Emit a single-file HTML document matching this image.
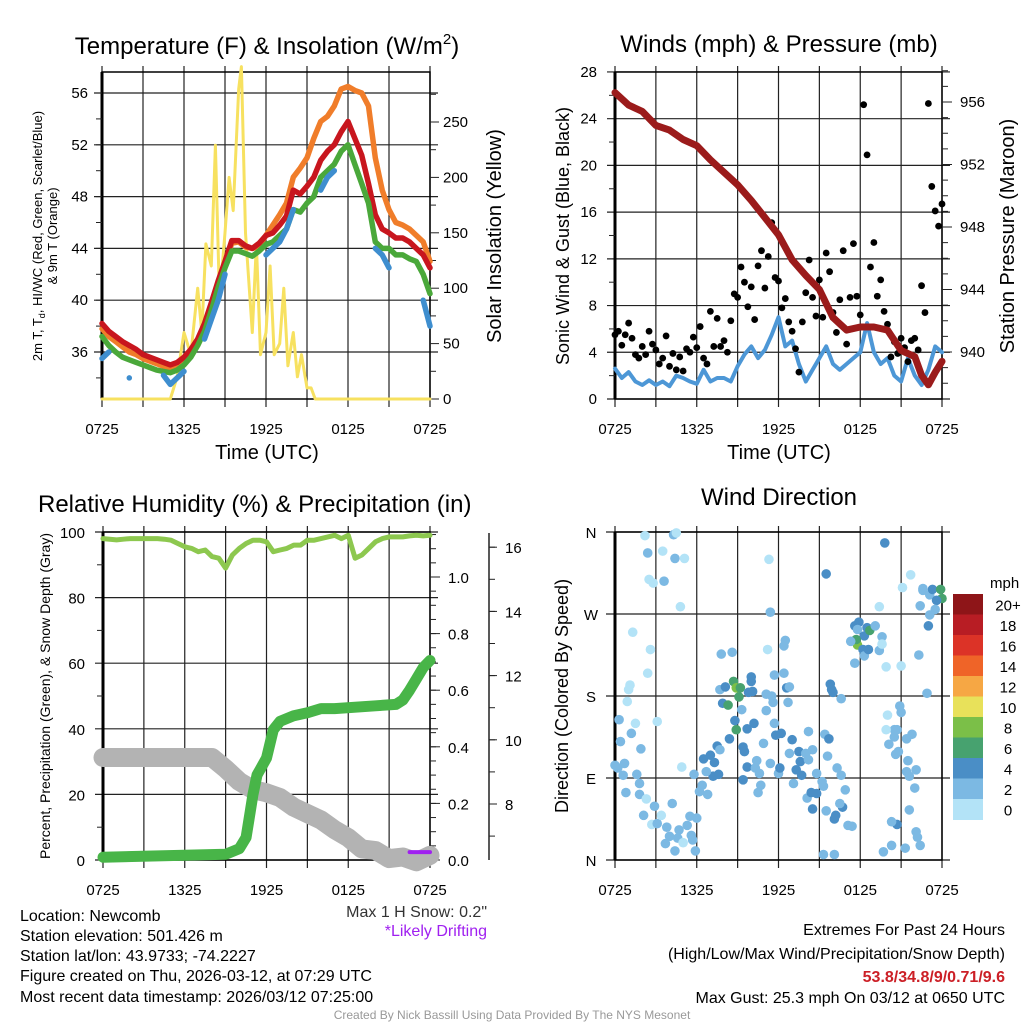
<!DOCTYPE html>
<html><head><meta charset="utf-8"><title>Mesonet Meteogram</title>
<style>
html,body{margin:0;padding:0;background:#fff;}
svg{display:block;font-family:"Liberation Sans",Arial,sans-serif;}
</style></head>
<body>
<svg id="chart" xmlns="http://www.w3.org/2000/svg" width="1024" height="1024" viewBox="0 0 1024 1024">
<rect x="0" y="0" width="1024" height="1024" fill="#fff"/>
<g id="layer"></g>
<text x="267" y="54" font-size="24" text-anchor="middle">Temperature (F) &amp; Insolation (W/m<tspan font-size="15" dy="-10">2</tspan><tspan dy="10">)</tspan></text>
<text x="779" y="52" font-size="24" text-anchor="middle">Winds (mph) &amp; Pressure (mb)</text>
<text x="38" y="512" font-size="24">Relative Humidity (%) &amp; Precipitation (in)</text>
<text x="779" y="505" font-size="24" text-anchor="middle">Wind Direction</text>
<text x="267" y="459" font-size="20" text-anchor="middle">Time (UTC)</text>
<text x="779" y="459" font-size="20" text-anchor="middle">Time (UTC)</text>
<text transform="translate(42,236) rotate(-90)" font-size="13" text-anchor="middle">2m T, T<tspan font-size="9" dy="3">d</tspan><tspan dy="-3">, HI/WC (Red, Green, Scarlet/Blue)</tspan></text>
<text transform="translate(57,236) rotate(-90)" font-size="13" text-anchor="middle">&amp; 9m T (Orange)</text>
<text transform="translate(501,236) rotate(-90)" font-size="20" text-anchor="middle">Solar Insolation (Yellow)</text>
<text transform="translate(569,236) rotate(-90)" font-size="18" text-anchor="middle">Sonic Wind &amp; Gust (Blue, Black)</text>
<text transform="translate(1014,236) rotate(-90)" font-size="20" text-anchor="middle">Station Pressure (Maroon)</text>
<text transform="translate(50,696) rotate(-90)" font-size="14" text-anchor="middle">Percent, Precipitation (Green), &amp; Snow Depth (Gray)</text>
<text transform="translate(568,696) rotate(-90)" font-size="18" text-anchor="middle">Direction (Colored By Speed)</text>
<text x="990" y="588" font-size="15">mph</text>
<text x="487" y="917" font-size="16" text-anchor="end" fill="#333">Max 1 H Snow: 0.2"</text>
<text x="487" y="936" font-size="16" text-anchor="end" fill="#a020f0">*Likely Drifting</text>
<g font-size="16">
<text x="20" y="921">Location: Newcomb</text>
<text x="20" y="941">Station elevation: 501.426 m</text>
<text x="20" y="961">Station lat/lon: 43.9733; -74.2227</text>
<text x="20" y="981">Figure created on Thu, 2026-03-12, at 07:29 UTC</text>
<text x="20" y="1002">Most recent data timestamp: 2026/03/12 07:25:00</text>
</g>
<g font-size="16" text-anchor="end">
<text x="1005" y="935">Extremes For Past 24 Hours</text>
<text x="1005" y="959">(High/Low/Max Wind/Precipitation/Snow Depth)</text>
<text x="1005" y="982" fill="#cc1f26" font-weight="bold">53.8/34.8/9/0.71/9.6</text>
<text x="1005" y="1003">Max Gust: 25.3 mph On 03/12 at 0650 UTC</text>
</g>
<text x="512" y="1019" font-size="12" text-anchor="middle" fill="#999">Created By Nick Bassill Using Data Provided By The NYS Mesonet</text>
</svg>
<script>
const halfHours = [0,0.5,1,1.5,2,2.5,3,3.5,4,4.5,5,5.5,6,6.5,7,7.5,8,8.5,9,9.5,10,10.5,11,11.5,12,12.5,13,13.5,14,14.5,15,15.5,16,16.5,17,17.5,18,18.5,19,19.5,20,20.5,21,21.5,22,22.5,23,23.5,24];
const xTickLabels = ["0725","1325","1925","0125","0725"];
const tempRed = [38.2,37.6,37.2,36.8,36.5,36.2,35.8,35.6,35.4,35.2,35.0,35.2,35.6,36.2,37.0,38.2,39.8,41.5,43.0,44.6,44.6,44.2,44.0,44.4,45.0,45.2,45.8,46.5,48.5,48.2,48.8,49.5,50.8,51.5,52.0,53.0,53.8,52.5,51.2,49.0,46.6,45.5,45.2,44.8,44.8,44.5,44.0,43.5,42.5];
const tempGreen = [37.2,36.5,36.0,35.6,35.4,35.2,35.0,34.8,34.6,34.5,34.4,34.6,35.0,35.6,36.5,37.6,39.2,41.0,42.5,43.8,43.8,43.6,43.4,43.8,44.3,44.5,45.0,45.5,47.0,46.8,47.5,48.0,49.5,50.0,50.5,51.5,52.0,50.5,49.0,47.5,44.5,44.0,44.0,43.5,43.5,43.2,43.0,42.0,40.5];
const tempBlue = [35.5,36,null,null,34,null,null,null,null,34.2,33.5,34,34.5,null,null,37,38.5,40,42,null,null,null,null,null,43.5,44,44.5,45.5,47,null,null,null,48.5,49.5,50,null,null,null,null,null,44,43.5,42.5,null,null,null,null,40,38];
const tempOrange = [37.8,37.2,36.8,36.4,36,35.8,35.5,35.3,35.1,34.9,34.8,35,35.4,36,36.8,38,39.6,41.2,42.8,44.4,44.5,44.1,44,44.2,45,45.8,46.6,47.5,49.5,50.2,51,52.5,53.8,54.2,55,56.3,56.5,56.2,56,55,51,48.5,47,46,45.8,45.5,45,44.5,43];
const solarHours = [0,5.0,5.5,6,6.5,7,7.3,7.6,8,8.3,8.6,9,9.3,9.6,10,10.2,10.5,11,11.3,11.6,12,12.3,12.6,13,13.3,13.6,14,14.3,14.6,15,15.3,15.6,24];
const solarValues = [0,0,20,60,40,100,60,140,120,229,90,150,200,170,280,300,150,60,140,40,60,120,40,50,100,30,60,20,40,10,10,0,0];
const tempTicks = [36,40,44,48,52,56];
const solarTicks = [0,50,100,150,200,250];
const windSpeed = [2.6,1.8,2.3,1.5,1.2,1.6,1.2,1.5,1.1,2.0,1.8,1.5,1.3,2.5,1.5,1.8,1.8,1.5,2.8,3.8,4.5,3.5,4.2,5.5,7.0,4.5,5.0,3.0,1.5,2.5,3.5,4.5,3.0,2.5,3.0,3.5,4.0,6.5,4.0,3.0,3.5,2.0,1.5,3.5,2.0,1.2,2.5,4.5,4.0];
const gustValues = [5.5,5.8,4.6,5.5,6.5,5.2,3.8,3.5, 4.5,3.8,5.8,4.7,4.2,3.0,3.5,5.4, 2.8,3.9,2.5,3.6,2.4,4.3,4.0,5.3, 4.4,6.2,3.5,3.0,7.5,4.5,6.9,4.5, 5.0,4.0,6.7,9.0,8.7,11.3,10.0,7.9, 9.6,6.8,11.4,12.7,9.5,12.2,15.1,10.4, 10.1,7.8,8.6,6.6,5.8,4.3,2.3,6.6, 9.1,11.9,8.7,7.1,10.2,7.0,12.5,10.9, 7.4,5.7,8.5,12.7,4.7,8.7,13.3,8.8, 7.2,25.2,20.9,11.3,13.4,8.8,10.2,7.5, 6.4,3.6,4.9,3.9,5.2,4.4,3.2,5.0, 5.2,4.2,9.7,7.4,25.3,18.2,16.1,14.8,16.7];
const pressureHours = [0,1,2,3,4,5,6,7,8,9,10,11,12,13,14,15,16,17,18,19,20,21,22,22.5,23,23.5,24];
const pressureValues = [956.6,955.8,955.4,954.5,954.2,953.6,953.2,952.3,951.5,950.7,949.7,948.6,947.5,945.9,944.9,944.0,942.2,941.4,941.6,941.6,941.4,940.1,939.7,938.5,937.9,938.7,939.4];
const windTicks = [0,4,8,12,16,20,24,28];
const pressureTicks = [940,944,948,952,956];
const rhValues = [98,97.8,97.6,97.8,98,98,98,98,98,97.8,97.5,96.5,95.5,95,94,94.5,92.5,92,89,93,95,96.5,97.5,97.5,97,94,94.5,95,96,96,97.5,97.5,98,98.5,99,98,99,92,93,95,97,98,98.5,98.5,98.5,98.8,99,98.8,99];
const precipHours = [0,9,10,10.5,10.8,11,11.3,12,12.5,13,14,15,16,17,20,21.5,22,22.5,23,23.5,24];
const precipValues = [0.01,0.02,0.04,0.08,0.17,0.23,0.30,0.36,0.46,0.49,0.51,0.52,0.535,0.535,0.545,0.55,0.565,0.60,0.64,0.68,0.705];
const snowHours = [0,8,9,10,11,12,13,14,15,16,17,18,19,20,21,22,23,24];
const snowValues = [9.45,9.45,9.1,8.7,8.45,8.35,8.2,7.9,7.7,7.5,7.2,6.95,6.6,6.55,6.3,6.35,6.2,6.4];
const driftHours = [22.5,24];
const driftValues = [6.5,6.5];
const pctTicks = [0,20,40,60,80,100];
const precipTicks = ["0.0","0.2","0.4","0.6","0.8","1.0"];
const snowTicks = [8,10,12,14,16];
const dirHours = [2.2,2.4,3.5,4.3,4.5,4.4,5.1,2.5,2.8,3.6,4.8,1.3,2.6,2.4,1.1,1.0,0.9,0.3,1.5,3.1,0.4,1.2,1.9,0.0,0.7,0.2,0.6,1.6,1.8,0.8,1.8,2.3,2.9,2.1,2.7,3.1,3.4,3.8,4.2,4.0,3.7,4.4,4.6,5.0,4.7,5.3,5.5,5.6,5.7,5.9,6.0,5.8,6.2,6.4,6.8,6.5,7.0,7.3,7.6,7.2,6.7,7.5,7.7,4.9,7.8,8.6,7.7,8.1,8.7,8.9,9.2,9.1,7.9,8.3,8.9,8.8,8.4,9.3,9.4,9.5,9.7,10.2,10.0,10.0,9.8,10.1,9.4,9.7,10.4,10.3,10.6,10.7,10.5,10.9,11.1,11.1,11.6,11.5,11.7,11.4,11.8,12.2,12.0,12.1,12.4,11.7,12.6,12.8,12.7,13.0,12.8,13.1,13.3,13.5,13.6,13.7,14.0,14.2,14.5,14.2,14.1,14.4,14.5,14.8,14.8,15.2,15.3,15.5,15.4,15.7,15.6,15.8,15.9,16.0,16.6,16.3,16.6,16.9,16.7,16.5,16.2,16.1,17.1,17.4,15.3,16.1,15.5,11.3,11.4,11.2,12.4,12.5,17.6,17.9,17.8,18.3,18.5,18.7,17.8,17.7,17.3,17.6,18.2,18.3,18.6,19.1,19.6,19.4,19.6,19.9,19.8,21.1,21.7,19.4,21.0,22.3,22.9,20.9,21.0,20.0,20.5,19.9,20.7,20.1,20.5,21.4,21.8,20.6,20.8,21.5,21.4,21.6,22.1,22.0,21.6,20.7,20.3,22.1,22.2,22.4,21.3,20.3,19.7,22.6,22.6,23.1,23.3,24.0,23.9,23.6,23.5,23.1,22.4,23.0];
const dirDegrees = [356,337,339,357,359,331,331,308,304,306,278,250,231,205,192,187,174,154,150,152,130,139,122,104,106,101,93,94,84,74,72,67,59,49,39,40,49,36,62,26,18,10,24,19,33,38,48,27,22,10,46,94,75,82,72,111,115,107,94,92,97,125,121,102,226,228,187,190,196,189,189,179,172,170,143,153,133,165,124,119,144,150,201,196,184,185,88,102,109,101,95,82,74,128,164,182,173,180,150,106,137,139,95,101,205,203,189,190,173,132,117,84,99,119,108,93,117,141,121,110,68,74,56,73,95,86,81,54,138,133,114,193,187,184,177,101,93,77,58,62,49,45,38,37,6,6,314,330,272,231,235,241,257,261,253,246,255,252,236,242,240,216,231,224,231,257,245,230,237,212,348,299,313,278,213,225,183,169,162,159,143,143,143,127,135,133,138,116,119,109,97,92,99,79,55,39,42,31,25,16,13,16,9,298,296,291,297,287,297,285,275,269,279,257];
const dirSpeeds = [1,3,1,3,1,3,1,1,1,3,1,1,1,1,1,1,1,3,1,1,3,3,3,3,3,3,3,3,3,3,3,1,3,3,1,3,1,3,3,3,3,3,3,1,3,3,3,3,3,3,3,3,3,3,3,5,5,5,5,5,3,5,3,1,3,3,3,5,7,9,7,7,5,7,7,5,5,3,5,5,5,5,5,5,5,5,5,5,3,3,3,3,3,3,3,3,3,3,3,3,5,5,3,5,3,3,5,3,3,5,3,3,5,5,5,5,3,3,3,3,3,5,5,5,3,3,3,3,3,5,3,5,5,5,3,3,3,3,5,3,5,5,3,3,3,3,5,1,3,1,3,3,5,5,3,5,5,7,9,7,3,3,5,3,5,3,3,3,1,1,5,1,1,1,1,3,3,3,3,1,3,1,3,3,3,3,3,3,3,3,3,3,3,3,3,5,3,3,3,3,3,3,3,3,3,3,5,7,7,5,3,3,3,5,3];
const speedBins = ["0","2","4","6","8","10","12","14","16","18","20+"];
const binColors = ["#b3e3f7","#7cb9e3","#4a8ec6","#47a26f","#7bbf48","#e8e15a","#f6a744","#ef6428","#dc3327","#b81d24","#8e1518"];
const dirTickLabels = ["N","E","S","W","N"];
const dirTickValues = [0,90,180,270,360];

const NS = "http://www.w3.org/2000/svg";
const layer = document.getElementById("layer");
function mk(tag, attrs, parent){
  const e = document.createElementNS(NS, tag);
  for (const k in attrs) e.setAttribute(k, attrs[k]);
  (parent||layer).appendChild(e);
  return e;
}
function grp(name){
  const g = mk("g", {});
  
  
  return g;
}
function poly(xs, ys, xf, yf, stroke, width, name, parent){
  let seg = [];
  const segs = [];
  for (let i=0;i<xs.length;i++){
    if (ys[i]===null){ if(seg.length) segs.push(seg); seg=[]; continue; }
    seg.push(xf(xs[i]).toFixed(1)+","+yf(ys[i]).toFixed(1));
  }
  if (seg.length) segs.push(seg);
  segs.forEach(s=>{
    const p = mk("polyline", {points: s.length===1 ? s[0]+" "+s[0] : s.join(" "), fill:"none", stroke:stroke, "stroke-width":width, "stroke-linejoin":"round", "stroke-linecap":"round"}, parent);
    
    
  });
}
function txt(x,y,s,anchor,size,parent){
  const t = mk("text",{x:x,y:y,"font-size":size||15,"text-anchor":anchor||"middle"},parent);
  t.textContent = s;
  return t;
}
function frame(name, x0,x1,y0,y1, yGrid, gridStart){
  const g = grp(name+"-grid");
  for (let h=0; h<=24; h+=3){
    const x = x0 + h/24*(x1-x0);
    mk("line",{x1:x,y1:y0-6,x2:x,y2:y1+8,stroke:"#222","stroke-width":1.2},g);
  }
  yGrid.forEach(y=>mk("line",{x1:gridStart,y1:y,x2:x1+8,y2:y,stroke:"#222","stroke-width":1.2},g));
  const f = mk("rect",{x:x0,y:y0,width:x1-x0,height:y1-y0,fill:"none",stroke:"#000","stroke-width":1.5});
  
  
  mk("line",{x1:x0,y1:y0,x2:x0,y2:y1,stroke:"#000","stroke-width":3},g);
  const lg = grp(name+"-x-tick-labels");
  xTickLabels.forEach((s,i)=>txt(x0+i*6/24*(x1-x0), y1+35, s, "middle", 15, lg));
}
function minorTicks(x, yf, from, to, step, dir, g){
  for (let v=from; v<=to+1e-9; v+=step){
    const y=yf(v);
    mk("line",{x1:x,y1:y,x2:x+dir*6,y2:y,stroke:"#222","stroke-width":1},g);
  }
}

(function(){
  const x0=102,x1=430,y0=72,y1=399;
  const xF = h => x0 + h/24*(x1-x0);
  const tY = t => 93 + (56-t)*12.95;
  const sY = s => 399 - s*1.108;
  frame("temp-panel", x0,x1,y0,y1, tempTicks.map(tY), x0-8);
  const tg = grp("temp-y-ticks");
  tempTicks.forEach(t=>txt(x0-14, tY(t)+5, String(t), "end", 15, tg));
  minorTicks(x0, tY, 34, 56, 2, -1, tg);
  const sg = grp("solar-y-ticks");
  solarTicks.forEach(s=>{ mk("line",{x1:x1,y1:sY(s),x2:x1+9,y2:sY(s),stroke:"#222"},sg); txt(x1+13, sY(s)+5, String(s), "start", 15, sg); });
  minorTicks(x1, sY, 25, 275, 50, 1, sg);
  poly(solarHours, solarValues, xF, sY, "#f7e160", 3, "solar-insolation-line");
  poly(halfHours, tempOrange, xF, tY, "#f07d2a", 5.5, "temp-9m-orange-line");
  poly(halfHours, tempRed, xF, tY, "#c8161e", 5.5, "temp-2m-red-line");
  poly(halfHours, tempGreen, xF, tY, "#4aa83a", 5.5, "dewpoint-green-line");
  poly(halfHours, tempBlue, xF, tY, "#3e8ecf", 5.5, "windchill-blue-line");
})();

(function(){
  const x0=615,x1=942,y0=72,y1=399;
  const xF = h => x0 + h/24*(x1-x0);
  const wY = v => 399 - v*11.68;
  const pY = p => 102 + (956-p)*15.625;
  frame("wind-panel", x0,x1,y0,y1, windTicks.map(wY), x0-8);
  const wg = grp("wind-y-ticks");
  windTicks.forEach(v=>txt(x0-18, wY(v)+5, String(v), "end", 15, wg));
  minorTicks(x0, wY, 2, 26, 4, -1, wg);
  const pg = grp("pressure-y-ticks");
  pressureTicks.forEach(p=>{ mk("line",{x1:x1,y1:pY(p),x2:x1+10,y2:pY(p),stroke:"#222"},pg); txt(x1+18, pY(p)+5, String(p), "start", 15, pg); });
  minorTicks(x1, pY, 938, 958, 1, 1, pg);
  poly(halfHours, windSpeed, xF, wY, "#4d97d6", 4, "sonic-wind-line");
  const dg = grp("gust-dots");
  gustValues.forEach((v,i)=>{
    const c = mk("circle",{cx:xF(i*0.25),cy:wY(v),r:3.4,fill:"#000"},dg);
    
    
  });
  poly(pressureHours, pressureValues, xF, pY, "#9b1b1b", 7, "station-pressure-line");
})();

(function(){
  const x0=103,x1=430,y0=532,y1=860;
  const xF = h => x0 + h/24*(x1-x0);
  const rY = v => 860 - v*3.28;
  const prY = p => 860 - p*283;
  const snY = s => 804 - (s-8)*32.1;
  frame("rh-panel", x0,x1,y0,y1, pctTicks.map(rY), x0-8);
  const pg = grp("pct-y-ticks");
  pctTicks.forEach(v=>txt(x0-18, rY(v)+6, String(v), "end", 15, pg));
  minorTicks(x0, rY, 10, 90, 20, -1, pg);
  const qg = grp("precip-y-ticks");
  precipTicks.forEach(s=>{ const y=prY(parseFloat(s)); mk("line",{x1:x1,y1:y,x2:x1+10,y2:y,stroke:"#222"},qg); txt(x1+18, y+6, s, "start", 15, qg); });
  minorTicks(x1, prY, 0.05, 1.15, 0.05, 1, qg);
  const sg = grp("snow-y-axis");
  mk("line",{x1:489,y1:533,x2:489,y2:860,stroke:"#222","stroke-width":1.5},sg);
  snowTicks.forEach(s=>{ mk("line",{x1:489,y1:snY(s),x2:497,y2:snY(s),stroke:"#222"},sg); txt(505, snY(s)+6, String(s), "start", 15, sg); });
  minorTicks(489, snY, 7, 16.5, 1, 1, sg);
  poly(snowHours, snowValues, xF, snY, "#b3b3b3", 19, "snow-depth-line");
  poly(driftHours, driftValues, xF, snY, "#a020f0", 4, "drifting-marks");
  poly(precipHours, precipValues, xF, prY, "#48b548", 11, "precip-line");
  poly(halfHours, rhValues, xF, rY, "#8dc84f", 5, "rh-line");
})();

(function(){
  const x0=615,x1=942,y0=532,y1=860;
  const xF = h => x0 + h/24*(x1-x0);
  const dY = d => 860 - d/360*328;
  frame("dir-panel", x0,x1,y0,y1, dirTickValues.map(dY), x0-9);
  const dg = grp("dir-y-ticks");
  dirTickLabels.forEach((s,i)=>txt(591, dY(dirTickValues[i])+6, s, "middle", 15, dg));
  const pg = grp("dir-dots");
  dirHours.forEach((h,i)=>{
    const b = Math.max(0, Math.min(10, Math.floor(dirSpeeds[i]/2)));
    const c = mk("circle",{cx:xF(h),cy:dY(dirDegrees[i]),r:4.8,fill:binColors[b]},pg);
    
    
  });
  const cg = grp("speed-colorbar");
  const top=594, bh=20.5;
  for (let i=0;i<speedBins.length;i++){
    const idx = speedBins.length-1-i;
    const r = mk("rect",{x:953,y:top+i*bh,width:30,height:bh+0.5,fill:binColors[idx]},cg);
    
    
    txt(1008, top+i*bh+bh/2+6, speedBins[idx], "middle", 15, cg);
  }
})();
</script>
</body></html>
